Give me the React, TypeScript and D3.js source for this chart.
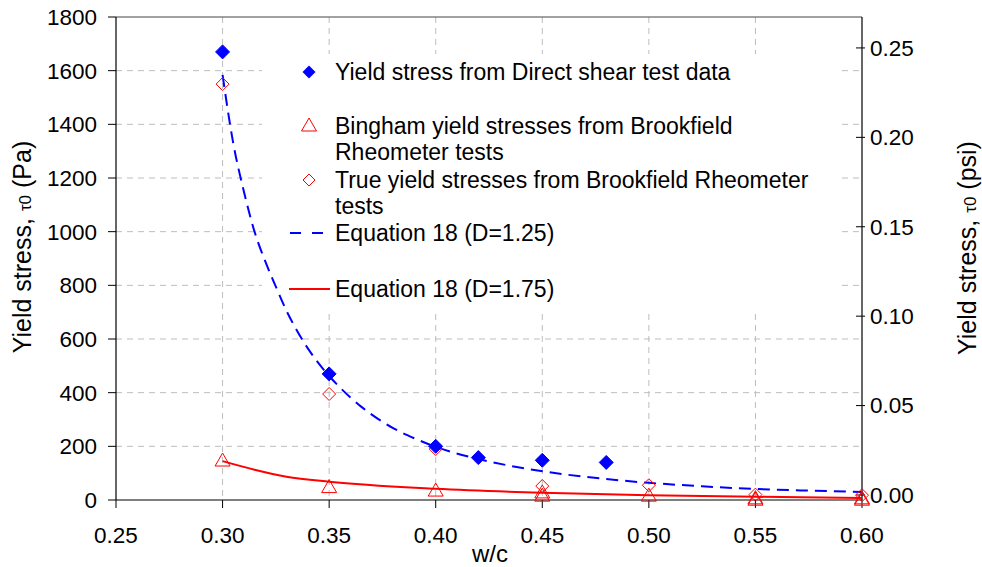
import React from 'react';
import * as d3 from 'd3';

// ---- data ----
const xTickValues = [0.25, 0.3, 0.35, 0.4, 0.45, 0.5, 0.55, 0.6];
const yLeftTickValues = [0, 200, 400, 600, 800, 1000, 1200, 1400, 1600, 1800];
const yRightTickValues = [0, 0.05, 0.1, 0.15, 0.2, 0.25];

const directShearWc = [0.3, 0.35, 0.4, 0.42, 0.45, 0.48];
const directShearTau = [1670, 470, 200, 158, 148, 140];

const binghamWc = [0.3, 0.35, 0.4, 0.45, 0.45, 0.5, 0.55, 0.55, 0.6, 0.6];
const binghamTau = [149, 50, 37, 30, 18, 18, 8, 3, 8, 3];

const trueYieldWc = [0.3, 0.35, 0.4, 0.45, 0.5, 0.55, 0.6];
const trueYieldTau = [1550, 395, 190, 52, 55, 20, 18];

const eq125Wc = [0.3, 0.305, 0.31, 0.315, 0.32, 0.325, 0.33, 0.335, 0.34, 0.345, 0.35, 0.355, 0.36, 0.365, 0.37, 0.38, 0.39, 0.4, 0.42, 0.44, 0.46, 0.48, 0.5, 0.525, 0.55, 0.575, 0.6];
const eq125Tau = [1584, 1330, 1150, 1000, 890, 795, 705, 630, 565, 510, 462, 420, 382, 348, 318, 268, 230, 198, 153, 120, 96, 78, 64, 51, 41, 35, 30];

const eq175Wc = [0.3, 0.315, 0.33, 0.35, 0.4, 0.45, 0.5, 0.55, 0.6];
const eq175Tau = [145, 113, 87, 68, 42, 27, 18, 12, 7];

const legendLabels = [
  ['Yield stress from Direct shear test data'],
  ['Bingham yield stresses from Brookfield', 'Rheometer tests'],
  ['True yield stresses from Brookfield Rheometer', 'tests'],
  ['Equation 18 (D=1.25)'],
  ['Equation 18 (D=1.75)'],
];

// ---- layout ----
const W = 982;
const H = 567;
const left = 116;
const right = 862;
const top = 17;
const bottom = 500;
const FONT = "'Liberation Sans', Arial, sans-serif";
const BLUE = '#0000FF';
const RED = '#FF0000';

const x = d3.scaleLinear().domain([0.25, 0.6]).range([left, right]);
const y = d3.scaleLinear().domain([0, 1800]).range([bottom, top]);
const yR = d3.scaleLinear().domain([-0.0028, 0.2673]).range([bottom, top]);

const diamond = (cx: number, cy: number, r: number) =>
  `M${cx},${cy - r}L${cx + r},${cy}L${cx},${cy + r}L${cx - r},${cy}Z`;
const triangle = (cx: number, cy: number) =>
  `M${cx},${cy - 7}L${cx + 7.5},${cy + 6}L${cx - 7.5},${cy + 6}Z`;

export default function App() {
  const mk = (wc: number[], tau: number[]) =>
    d3
      .line<number>()
      .x((d, i) => x(wc[i]))
      .y((d) => y(d))
      .curve(d3.curveMonotoneX)(tau) as string;

  const eq125Path = mk(eq125Wc, eq125Tau);
  const eq175Path = mk(eq175Wc, eq175Tau);

  const gridColor = '#BDBDBD';
  const legX = 309;
  const legTextX = 335;
  const legRowY = [72, 126, 180, 233, 289];

  return (
    <div style={{ position: 'absolute', left: 0, top: 0 }}>
      <svg width={W} height={H} style={{ display: 'block', background: '#fff' }} fontFamily={FONT}>
        <rect x={0} y={0} width={W} height={H} fill="#fff" />
        {/* gridlines */}
        {yLeftTickValues
          .filter((v) => v > 0 && v < 1800)
          .map((v) => (
            <line key={'gy' + v} x1={left} x2={right} y1={y(v)} y2={y(v)} stroke={gridColor} strokeWidth={1} strokeDasharray="6,5" />
          ))}
        {xTickValues
          .filter((v) => v > 0.26 && v < 0.59)
          .map((v) => (
            <line key={'gx' + v} x1={x(v)} x2={x(v)} y1={top} y2={bottom} stroke={gridColor} strokeWidth={1} strokeDasharray="6,5" />
          ))}
        {/* legend background */}
        <rect x={262} y={54} width={576} height={256} fill="#fff" />
        {/* frame */}
        <line x1={left} x2={right} y1={top} y2={top} stroke="#444" strokeWidth={1} />
        <line x1={left} x2={left} y1={top} y2={bottom} stroke="#000" strokeWidth={1.2} />
        <line x1={right} x2={right} y1={top} y2={bottom} stroke="#000" strokeWidth={1.2} />
        <line x1={left} x2={right} y1={bottom} y2={bottom} stroke="#000" strokeWidth={1.2} />
        {/* left ticks */}
        {yLeftTickValues.map((v) => (
          <g key={'yl' + v}>
            <line x1={left - 8} x2={left} y1={y(v)} y2={y(v)} stroke="#000" />
            <text x={97} y={y(v)} dy="0.35em" textAnchor="end" fontSize={22.5} fill="#000">
              {v}
            </text>
          </g>
        ))}
        {/* bottom ticks */}
        {xTickValues.map((v) => (
          <g key={'xt' + v}>
            <line x1={x(v)} x2={x(v)} y1={bottom} y2={bottom + 8} stroke="#000" />
            <text x={x(v)} y={543} textAnchor="middle" fontSize={22.5} fill="#000">
              {d3.format('.2f')(v)}
            </text>
          </g>
        ))}
        {/* right ticks */}
        {yRightTickValues.map((v) => (
          <g key={'yr' + v}>
            <line x1={right - 6} x2={right + 3} y1={yR(v)} y2={yR(v)} stroke="#000" />
            <text x={870} y={yR(v)} dy="0.35em" textAnchor="start" fontSize={22.5} fill="#000">
              {d3.format('.2f')(v)}
            </text>
          </g>
        ))}
        {/* axis titles */}
        <text transform="translate(31,247) rotate(-90)" textAnchor="middle" fontSize={25} fill="#000">
          Yield stress, <tspan fontSize={17}>τ0</tspan> (Pa)
        </text>
        <text transform="translate(976,248) rotate(-90)" textAnchor="middle" fontSize={25} fill="#000">
          Yield stress, <tspan fontSize={17}>τ0</tspan> (psi)
        </text>
        <text x={490} y={562} textAnchor="middle" fontSize={24} fill="#000">
          w/c
        </text>

        {/* series */}
        <path d={eq125Path} fill="none" stroke={BLUE} strokeWidth={2} strokeDasharray="12,7" />
        <path d={eq175Path} fill="none" stroke={RED} strokeWidth={2} />
        {binghamTau.map((t, i) => (
          <path key={'b' + i} d={triangle(x(binghamWc[i]), y(t))} fill="none" stroke={RED} strokeWidth={1} />
        ))}
        {trueYieldTau.map((t, i) => (
          <path key={'t' + i} d={diamond(x(trueYieldWc[i]), y(t), 6.5)} fill="none" stroke={RED} strokeWidth={1} />
        ))}
        {directShearTau.map((t, i) => (
          <path key={'d' + i} d={diamond(x(directShearWc[i]), y(t), 7)} fill={BLUE} stroke={BLUE} strokeWidth={1} />
        ))}

        {/* legend */}
        <path d={diamond(legX, legRowY[0], 6.5)} fill={BLUE} />
        <path d={triangle(legX, legRowY[1] - 1)} fill="none" stroke={RED} strokeWidth={1} />
        <path d={diamond(legX, legRowY[2], 6)} fill="none" stroke={RED} strokeWidth={1} />
        <line x1={290} x2={324} y1={legRowY[3]} y2={legRowY[3]} stroke={BLUE} strokeWidth={2} strokeDasharray="11,11" />
        <line x1={289} x2={330} y1={legRowY[4]} y2={legRowY[4]} stroke={RED} strokeWidth={2} />
        {legendLabels.map((lines, i) => (
          <text key={'lg' + i} x={legTextX} y={legRowY[i]} dy="0.35em" fontSize={23} fill="#000">
            {lines.map((l, j) => (
              <tspan key={j} x={legTextX} dy={j === 0 ? '0.35em' : 26}>
                {l}
              </tspan>
            ))}
          </text>
        ))}
      </svg>
    </div>
  );
}
